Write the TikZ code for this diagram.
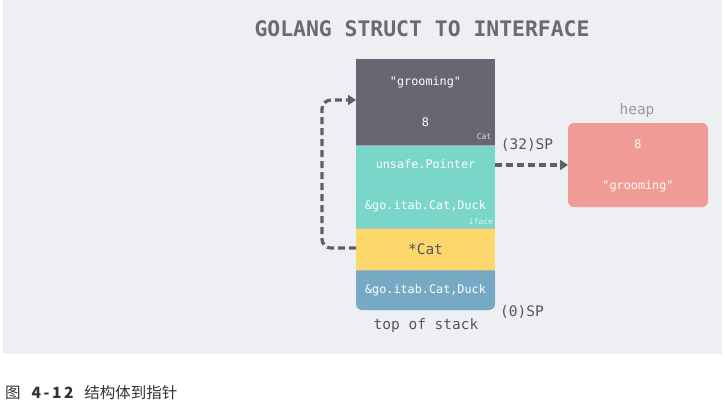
\documentclass[tikz,border=0pt]{standalone}
\usepackage{fontspec}
\setmonofont{DejaVu Sans Mono}
\newfontfamily\cjk{Noto Sans CJK SC}
\usetikzlibrary{arrows.meta}
\definecolor{bg}{HTML}{EEEFF2}
\definecolor{darkblk}{HTML}{686672}
\definecolor{tealblk}{HTML}{7AD6C9}
\definecolor{yelblk}{HTML}{FCD76C}
\definecolor{blueblk}{HTML}{76A9C4}
\definecolor{heapblk}{HTML}{F19B96}
\definecolor{lbl}{HTML}{55555D}
\definecolor{dash}{HTML}{5F5F68}
\definecolor{titlec}{HTML}{6A6A74}
\tikzset{
  blk/.style={inner sep=0pt, text=white, font=\ttfamily\fontsize{11.8}{13}\selectfont},
  tiny/.style={inner sep=0pt, font=\ttfamily\fontsize{8}{9}\selectfont},
  lab/.style={inner sep=0pt, text=lbl, font=\ttfamily\fontsize{14.5}{16}\selectfont},
  dasharrow/.style={draw=dash, line width=3.2pt, dash pattern=on 7pt off 4pt, -{Triangle[length=8pt,width=10pt]}, rounded corners=9pt}
}
\begin{document}
\begin{tikzpicture}[x=1pt,y=-1pt]
\useasboundingbox (0,0) rectangle (725,408);
\fill[bg] (3,0) rectangle (722,354);
\node[inner sep=0pt, text=titlec, font=\ttfamily\bfseries\fontsize{21.4}{25}\selectfont] (title) at (422,29) {GOLANG STRUCT TO INTERFACE};
% stack blocks
\fill[darkblk] (356,59) rectangle (495,145);
\fill[tealblk] (356,145) rectangle (495,228);
\fill[yelblk] (356,228) rectangle (495,270);
\fill[blueblk, rounded corners=6pt] (356,270) -- (356,310) -- (495,310) -- (495,270) -- cycle;
\fill[blueblk] (356,270) rectangle (495,285);
\draw[black!35, line width=1pt] (356,145) -- (495,145);
\draw[black!25, line width=1pt] (356,228) -- (495,228);
\draw[black!30, line width=1pt] (356,270) -- (495,270);
\coordinate (cat) at (356,100);
\coordinate (ptrR) at (495,165);
\coordinate (ycat) at (356,248);
\node[blk] (g1) at (425.5,82) {"grooming"};
\node[blk] (n1) at (425.5,122) {8};
\node[tiny, text=white!80!darkblk] (catl) at (484,137) {Cat};
\node[blk] (up) at (425.5,164) {unsafe.Pointer};
\node[blk] (itab1) at (425.5,206) {\&go.itab.Cat,Duck};
\node[tiny, text=white!75!tealblk] (ifl) at (481,222) {iface};
\node[blk, text=lbl, font=\ttfamily\fontsize{14.5}{16}\selectfont] (pcat) at (425.5,249) {*Cat};
\node[blk] (itab2) at (425.5,290) {\&go.itab.Cat,Duck};
\node[lab] (tos) at (426,325) {top of stack};
\node[lab] (sp0) at (522,312) {(0)SP};
\node[lab] (sp32) at (527,145) {(32)SP};
% heap
\node[lab, text=black!40] (heapl) at (637,110) {heap};
\fill[heapblk, rounded corners=6pt] (568,123) rectangle (708,207);
\coordinate (heapL) at (568,165);
\node[blk] (h8) at (638,144) {8};
\node[blk] (hg) at (638,186) {"grooming"};
% connectors
\draw[dasharrow] (ptrR) -- (heapL);
\draw[dasharrow] (ycat) -- (322,248) -- (322,100) -- (cat);
\node[inner sep=0pt, anchor=west, font=\cjk\fontsize{15.5}{18}\selectfont, text=black!80] (cap) at (5,393) {图\hspace{0.7em}{\bfseries 4\,-\,1\,2}\hspace{0.7em}结构体到指针};
\end{tikzpicture}
\end{document}
